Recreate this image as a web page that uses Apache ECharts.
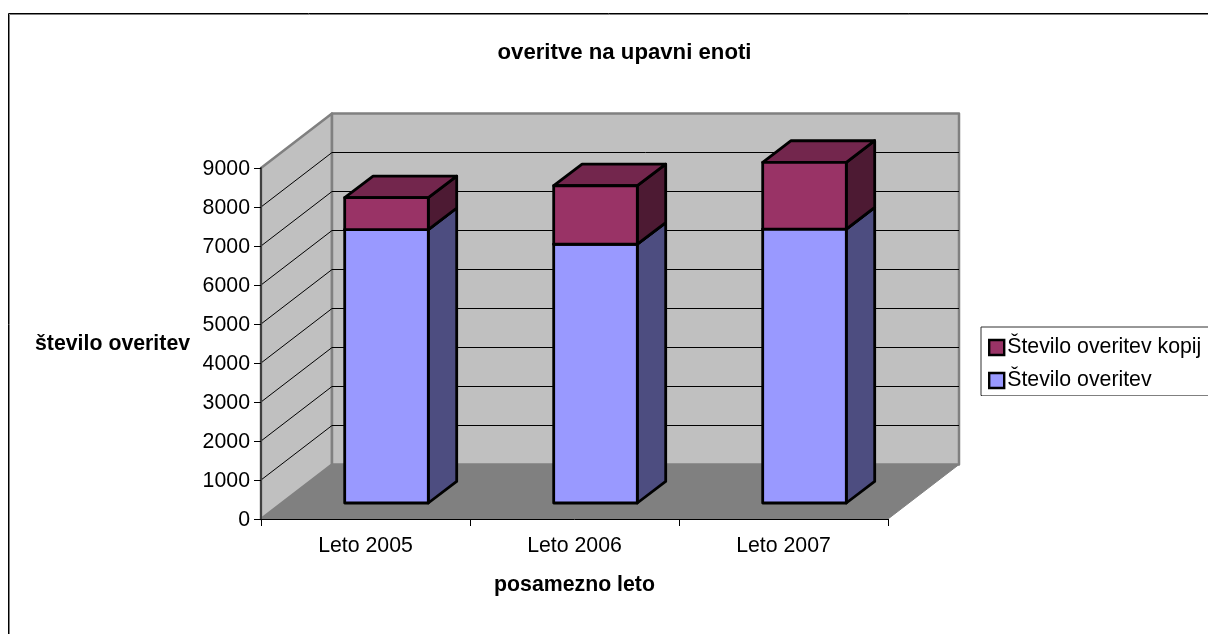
<!DOCTYPE html>
<html>
<head>
<meta charset="utf-8">
<style>html,body{margin:0;padding:0;background:#fff}#chart{width:1208px;height:634px}</style>
<script src="https://cdn.jsdelivr.net/npm/echarts@6/dist/echarts.min.js"></script>
</head>
<body>
<div id="chart"></div>
<script>
const categories = ['Leto 2005', 'Leto 2006', 'Leto 2007'];
const overitve = [7010, 6635, 7025];
const overitveKopij = [820, 1500, 1710];
const yTicks = [0, 1000, 2000, 3000, 4000, 5000, 6000, 7000, 8000, 9000];
const titleText = 'overitve na upavni enoti';
const xTitle = 'posamezno leto';
const yTitle = 'število overitev';
const seriesNames = ['Število overitev', 'Število overitev kopij'];

const FONT = '"Liberation Sans", Arial, sans-serif';
const FS = 21.3;
// Oblique projection of the chart box
const DEPTH_X = 71, DEPTH_Y = -54.5;
const BAR_DX = 28.4, BAR_DY = -21.6;
const BAR_OFF_X = 21, BAR_OFF_Y = -16;
const BAR_RATIO = 0.4;

function shade(points, fill, stroke, lineWidth) {
  return {
    type: 'polygon',
    shape: { points: points },
    style: { fill: fill, stroke: stroke, lineWidth: lineWidth, lineJoin: 'round' }
  };
}

// Back wall, side wall and floor
function renderBox(params) {
  const g = params.coordSys;
  const l = g.x, r = g.x + g.width, t = g.y, b = g.y + g.height;
  const edge = '#808080';
  return {
    type: 'group',
    children: [
      shade([[l, b], [l + DEPTH_X, b + DEPTH_Y], [r + DEPTH_X, b + DEPTH_Y], [r, b]], '#808080', '#808080', 1),
      shade([[l, t], [l + DEPTH_X, t + DEPTH_Y], [l + DEPTH_X, b + DEPTH_Y], [l, b]], '#C0C0C0', edge, 2.5),
      shade([[l + DEPTH_X, t + DEPTH_Y], [r + DEPTH_X, t + DEPTH_Y], [r + DEPTH_X, b + DEPTH_Y], [l + DEPTH_X, b + DEPTH_Y]], '#C0C0C0', edge, 2.5)
    ]
  };
}

// One gridline bent across the side wall and back wall
function renderGridline(params, api) {
  const g = params.coordSys;
  const y = api.coord([0, api.value(0)])[1];
  const l = g.x, r = g.x + g.width;
  return {
    type: 'polyline',
    shape: { points: [[l, y], [l + DEPTH_X, y + DEPTH_Y], [r + DEPTH_X, y + DEPTH_Y]] },
    style: { fill: null, stroke: '#000', lineWidth: 1 }
  };
}

// One stacked block: front, side and top faces
function renderBlock(colors) {
  return function (params, api) {
    const g = params.coordSys;
    const band = g.width / categories.length;
    const w = band * BAR_RATIO;
    const cx = api.coord([api.value(0), 0])[0] + BAR_OFF_X;
    const yBase = api.coord([0, api.value(1)])[1] + BAR_OFF_Y;
    const yTop = api.coord([0, api.value(2)])[1] + BAR_OFF_Y;
    const x0 = cx - w / 2, x1 = cx + w / 2;
    const lw = 2.8;
    return {
      type: 'group',
      children: [
        shade([[x1, yBase], [x1 + BAR_DX, yBase + BAR_DY], [x1 + BAR_DX, yTop + BAR_DY], [x1, yTop]], colors[1], '#000', lw),
        shade([[x0, yTop], [x0 + BAR_DX, yTop + BAR_DY], [x1 + BAR_DX, yTop + BAR_DY], [x1, yTop]], colors[2], '#000', lw),
        shade([[x0, yBase], [x1, yBase], [x1, yTop], [x0, yTop]], colors[0], '#000', lw)
      ]
    };
  };
}

const blueBlocks = categories.map((c, i) => [i, 0, overitve[i]]);
const redBlocks = categories.map((c, i) => [i, overitve[i], overitve[i] + overitveKopij[i]]);

const chart = echarts.init(document.getElementById('chart'), null, { renderer: 'canvas' });
chart.setOption({
  animation: false,
  backgroundColor: '#fff',
  textStyle: { fontFamily: FONT },
  title: {
    text: titleText,
    left: 619.5, top: 37, textAlign: 'center',
    textStyle: { fontFamily: FONT, fontSize: 22.2, fontWeight: 'bold', color: '#000' }
  },
  grid: { left: 261, top: 168, width: 627, height: 351, containLabel: false },
  legend: {
    orient: 'vertical',
    left: 981, top: 327,
    padding: [10, 40, 4.5, 7],
    itemGap: 12,
    itemWidth: 15, itemHeight: 15,
    backgroundColor: '#fff',
    borderColor: '#303030',
    borderWidth: 1,
    data: [
      { name: seriesNames[1], icon: 'rect', itemStyle: { color: '#993366', borderColor: '#000', borderWidth: 2.4 } },
      { name: seriesNames[0], icon: 'rect', itemStyle: { color: '#9999FF', borderColor: '#000', borderWidth: 2.4 } }
    ],
    textStyle: { fontFamily: FONT, fontSize: FS, color: '#000', padding: [0, 0, 0, -2] }
  },
  xAxis: {
    type: 'category',
    data: categories,
    z: 6,
    name: xTitle,
    nameLocation: 'middle',
    nameGap: 56,
    nameTextStyle: { fontFamily: FONT, fontSize: FS, fontWeight: 'bold', color: '#000' },
    axisLine: { lineStyle: { color: '#000', width: 1 } },
    axisTick: { show: true, length: 7, alignWithLabel: false, lineStyle: { color: '#000' } },
    axisLabel: { fontFamily: FONT, fontSize: FS, color: '#000', margin: 17 },
    splitLine: { show: false }
  },
  yAxis: {
    type: 'value',
    min: yTicks[0],
    max: yTicks[yTicks.length - 1],
    interval: 1000,
    z: 6,
    axisLine: { show: true, lineStyle: { color: '#404040', width: 2 } },
    axisTick: { show: true, length: 7, lineStyle: { color: '#000' } },
    axisLabel: {
      color: '#000', margin: 11,
      formatter: v => '{n|' + v + '}',
      rich: { n: { fontFamily: FONT, fontSize: FS, color: '#000', padding: [3, 0, 0, 0] } }
    },
    splitLine: { show: false }
  },
  graphic: [
    { type: 'text', left: 35, top: 334, z: 10,
      style: { text: yTitle, fontFamily: FONT, fontSize: FS, fontWeight: 'bold', fill: '#000' } },
    // Outer chart frame, dark edge with a grey inner edge
    { type: 'polyline', z: 0, silent: true,
      shape: { points: [[9.5, 640], [9.5, 14.5], [1215, 14.5]] },
      style: { fill: null, stroke: '#808080', lineWidth: 1 } },
    { type: 'polyline', z: 0, silent: true,
      shape: { points: [[8.5, 640], [8.5, 13.5], [1215, 13.5]] },
      style: { fill: null, stroke: '#000', lineWidth: 1 } },
    // Grey shadow under the legend box
    { type: 'line', z: 10, silent: true,
      shape: { x1: 982, y1: 395.5, x2: 1208, y2: 395.5 },
      style: { stroke: '#808080', lineWidth: 1 } }
  ],
  series: [
    { type: 'custom', name: 'box', silent: true, z: 1, data: [[0]], renderItem: renderBox, tooltip: { show: false } },
    { type: 'custom', name: 'grid', silent: true, z: 2, data: yTicks.slice(1, -1).map(v => [v]), encode: { y: 0 }, renderItem: renderGridline },
    { type: 'custom', name: seriesNames[0], z: 3, data: blueBlocks, encode: { x: 0, y: [1, 2] },
      itemStyle: { color: '#9999FF' }, renderItem: renderBlock(['#9999FF', '#4D4D80', '#73739F']) },
    { type: 'custom', name: seriesNames[1], z: 4, data: redBlocks, encode: { x: 0, y: [1, 2] },
      itemStyle: { color: '#993366' }, renderItem: renderBlock(['#993366', '#4D1A33', '#73264D']) }
  ]
});
</script>
</body>
</html>
